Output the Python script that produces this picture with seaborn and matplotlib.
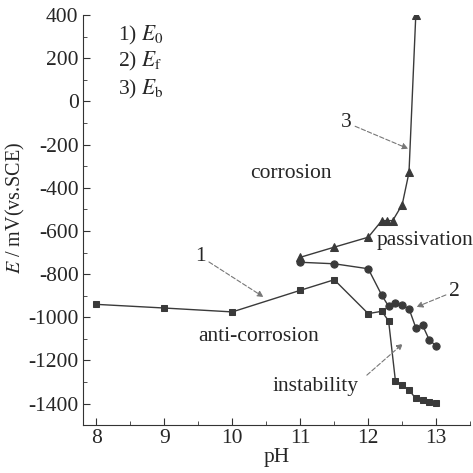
import numpy as np
import pandas as pd
import seaborn as sns
import matplotlib.pyplot as plt
from matplotlib.ticker import MultipleLocator

# data
ph_e0 = [8, 9, 10, 11, 11.5, 12, 12.2, 12.3, 12.4, 12.5, 12.6, 12.7, 12.8, 12.9, 13.0]
e0 = [-940, -957, -975, -875, -826, -983, -972, -1017, -1294, -1314, -1337, -1376, -1383, -1391, -1395]

ph_ef = [11, 11.5, 12, 12.2, 12.3, 12.4, 12.5, 12.6, 12.7, 12.8, 12.9, 13.0]
ef = [-745, -752, -775, -898, -949, -934, -945, -960, -1048, -1037, -1106, -1132]

ph_eb = [11, 11.5, 12, 12.2, 12.28, 12.36, 12.5, 12.6, 12.7]
eb = [-722, -675, -629, -552, -552, -552, -478, -329, 400]

sns.set_style("ticks")
plt.rcParams["font.family"] = ["Liberation Serif", "DejaVu Serif"]
plt.rcParams["mathtext.fontset"] = "stix"
plt.rcParams["axes.unicode_minus"] = False

fig = plt.figure(figsize=(4.73, 4.73), dpi=100)
ax = fig.add_axes([0.175, 0.101, 0.819, 0.867])

col = "#3a3a3a"
sns.lineplot(x=ph_e0, y=e0, marker="s", markersize=5, color=col, lw=1.0,
             markeredgecolor=col, sort=False, ax=ax)
sns.lineplot(x=ph_ef, y=ef, marker="o", markersize=5.2, color=col, lw=1.0,
             markeredgecolor=col, sort=False, ax=ax)
sns.lineplot(x=ph_eb, y=eb, marker="^", markersize=5.5, color=col, lw=1.0,
             markeredgecolor=col, sort=False, ax=ax)

fs = 15.5
ax.set_xlim(7.8, 13.5)
ax.set_ylim(-1500, 400)
ax.set_xticks([8, 9, 10, 11, 12, 13])
ax.xaxis.set_minor_locator(MultipleLocator(0.5))
ax.set_yticks(np.arange(-1400, 401, 200))
ax.yaxis.set_minor_locator(MultipleLocator(100))
ax.tick_params(which="both", direction="in", labelsize=fs, color="#333333", pad=3)
ax.tick_params(which="major", length=5)
ax.tick_params(which="minor", length=3)
sns.despine(ax=ax)
for s in ["left", "bottom"]:
    ax.spines[s].set_color("#333333")

ax.set_xlabel("pH", fontsize=fs, labelpad=0)
ax.set_ylabel("$E$ / mV(vs.SCE)", fontsize=14.5, labelpad=0)
ax.yaxis.set_label_coords(-0.143, 0.53)

ax.text(8.32, 308, "1) $E_0$", fontsize=fs, va="center")
ax.text(8.32, 183, "2) $E_\\mathrm{f}$", fontsize=fs, va="center")
ax.text(8.32, 54, "3) $E_\\mathrm{b}$", fontsize=fs, va="center")

ax.text(10.86, -336, "corrosion", fontsize=fs, ha="center", va="center")
ax.text(10.39, -1088, "anti-corrosion", fontsize=fs, ha="center", va="center")
ax.text(11.22, -1322, "instability", fontsize=fs, ha="center", va="center")
ax.text(12.12, -645, "passivation", fontsize=fs, ha="left", va="center", clip_on=False)

arrow = dict(arrowstyle="-|>", color="#777777", lw=0.8, linestyle=(0, (4, 2)),
             shrinkA=0, shrinkB=0, mutation_scale=9)
ax.annotate("1", xy=(10.46, -906), xytext=(9.53, -718), fontsize=fs,
            ha="center", va="center", arrowprops=arrow)
ax.annotate("2", xy=(12.71, -952), xytext=(13.27, -880), fontsize=fs,
            ha="center", va="center", arrowprops=arrow)
ax.annotate("3", xy=(12.59, -219), xytext=(11.68, -98), fontsize=fs,
            ha="center", va="center", arrowprops=arrow)
ax.annotate("", xy=(12.51, -1122), xytext=(11.98, -1268), arrowprops=arrow)

fig.savefig("out.png", dpi=100)
